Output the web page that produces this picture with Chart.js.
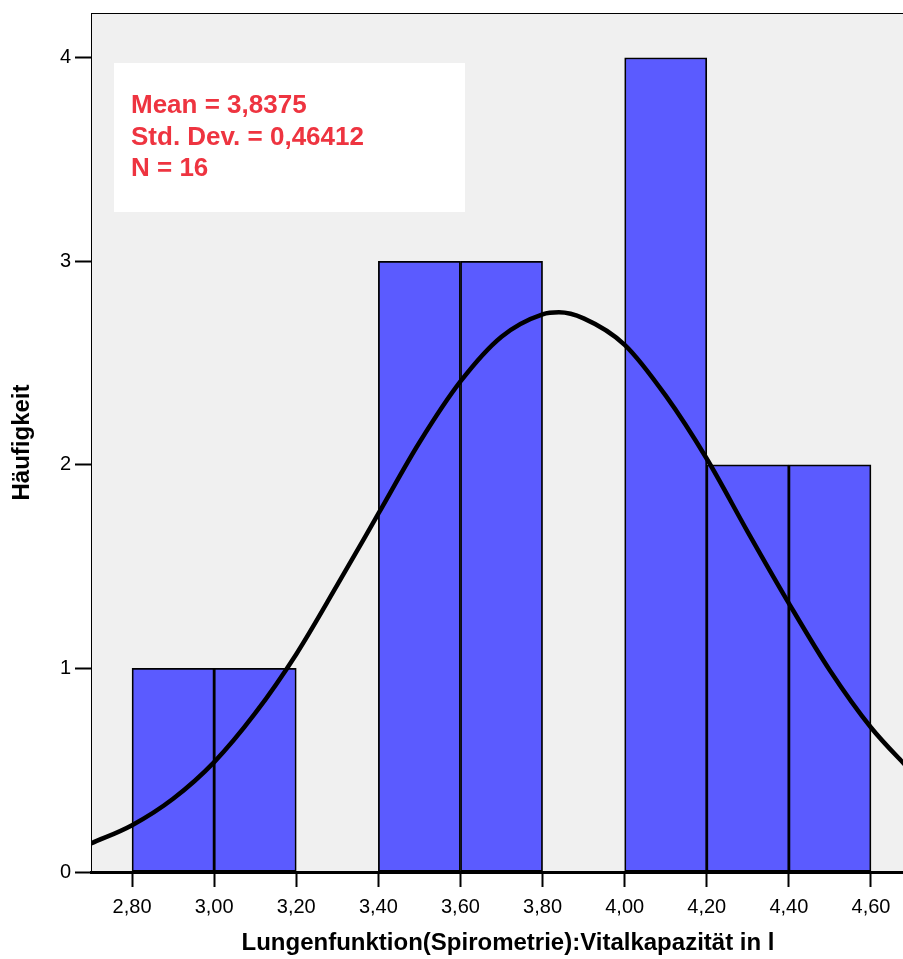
<!DOCTYPE html>
<html>
<head>
<meta charset="utf-8">
<script src="https://cdn.jsdelivr.net/npm/chart.js@4/dist/chart.umd.min.js"></script>
<style>
  html, body { margin: 0; padding: 0; background: #fff; }
  #wrap { width: 903px; height: 959px; }
</style>
</head>
<body>
<div id="wrap"><canvas id="hist"></canvas></div>
<script>
// Histogram - Vitalkapazität (SPSS style)

const binCenters = [2.9, 3.1, 3.3, 3.5, 3.7, 3.9, 4.1, 4.3, 4.5];
const binCounts = [1, 1, 0, 3, 3, 0, 4, 2, 2];

// normal curve (3.84 = top of the curve)
const curveX = [2.7, 2.8, 2.9, 3.0, 3.1, 3.2, 3.3, 3.4, 3.5, 3.6, 3.7, 3.8, 3.84, 3.9, 4.0, 4.1, 4.2, 4.3, 4.4, 4.5, 4.6, 4.7];
const curveY = [0.14, 0.23, 0.36, 0.54, 0.78, 1.07, 1.41, 1.76, 2.11, 2.41, 2.63, 2.74, 2.75, 2.72, 2.59, 2.34, 2.03, 1.67, 1.32, 0.99, 0.71, 0.49];

const xTickValues = [2.8, 3.0, 3.2, 3.4, 3.6, 3.8, 4.0, 4.2, 4.4, 4.6];
const xTickLabels = ['2,80', '3,00', '3,20', '3,40', '3,60', '3,80', '4,00', '4,20', '4,40', '4,60'];
const yTickValues = [0, 1, 2, 3, 4];
const yTickLabels = ['0', '1', '2', '3', '4'];

const statLines = ['Mean = 3,8375', 'Std. Dev. = 0,46412', 'N = 16'];
const xTitle = 'Lungenfunktion(Spirometrie):Vitalkapazität in l';

const FONT = "'Liberation Sans', Arial, sans-serif";

// Plot background, frame, statistics box and x title
const frame = {
    id: 'frame',
    beforeDraw(chart) {
        const { ctx, chartArea: a } = chart;
        ctx.save();
        ctx.fillStyle = '#f0f0f0';
        ctx.fillRect(a.left, a.top, a.right - a.left, a.bottom - a.top);
        ctx.strokeStyle = '#000';
        ctx.lineWidth = 1;
        ctx.beginPath();
        ctx.moveTo(a.left, a.top + 0.5);
        ctx.lineTo(a.right, a.top + 0.5);
        ctx.stroke();

        // stats box
        ctx.fillStyle = '#fff';
        ctx.fillRect(a.left + 23, a.top + 50, 351, 149);
        ctx.fillStyle = '#ee3440';
        ctx.font = 'bold 26px ' + FONT;
        ctx.textBaseline = 'middle';
        statLines.forEach((t, i) => {
            ctx.fillText(t, a.left + 40, a.top + 93 + i * 31.5);
        });

        // x axis title (sits a bit right of the plot centre)
        ctx.fillStyle = '#000';
        ctx.font = 'bold 24px ' + FONT;
        ctx.textAlign = 'center';
        ctx.fillText(xTitle, 508, 943);
        ctx.restore();
    }
};

new Chart(document.getElementById('hist'), {
    data: {
        datasets: [
            {
                type: 'line',
                data: curveX.map((x, i) => ({ x: x, y: curveY[i] })),
                borderColor: '#000',
                borderWidth: 4.5,
                pointRadius: 0,
                cubicInterpolationMode: 'monotone',
                fill: false,
                order: 0
            },
            {
                type: 'bar',
                data: binCenters.map((x, i) => ({ x: x, y: binCounts[i] })),
                backgroundColor: '#5b5bff',
                borderColor: '#000',
                borderWidth: 1.75,
                borderSkipped: false,
                barPercentage: 1.0,
                categoryPercentage: 1.0,
                order: 1
            }
        ]
    },
    options: {
        responsive: true,
        maintainAspectRatio: false,
        animation: false,
        layout: { padding: { top: 13, right: 0, left: 0, bottom: 0 } },
        plugins: {
            legend: { display: false },
            tooltip: { enabled: false }
        },
        scales: {
            x: {
                type: 'linear',
                offset: false,
                min: 2.7,
                max: 4.678,
                afterFit(scale) {
                    scale.height = 87;
                    scale.paddingLeft = 0;
                    scale.paddingRight = 0;
                },
                afterBuildTicks(scale) { scale.ticks = xTickValues.map(v => ({ value: v })); },
                ticks: {
                    autoSkip: false,
                    maxRotation: 0,
                    color: '#000',
                    padding: 8,
                    font: { family: FONT, size: 20 },
                    callback: (v, i) => xTickLabels[i]
                },
                grid: {
                    offset: false,
                    drawOnChartArea: false,
                    drawTicks: true,
                    tickLength: 15,
                    tickWidth: 2,
                    tickColor: '#000'
                },
                border: { display: true, color: '#000', width: 3 }
            },
            y: {
                min: 0,
                max: 4.22,
                afterFit(scale) {
                    scale.width = 91;
                    scale.paddingTop = 0;
                    scale.paddingBottom = 0;
                },
                afterBuildTicks(scale) { scale.ticks = yTickValues.map(v => ({ value: v })); },
                ticks: {
                    color: '#000',
                    padding: 4,
                    font: { family: FONT, size: 20 },
                    callback: (v, i) => yTickLabels[i]
                },
                grid: {
                    drawOnChartArea: false,
                    drawTicks: true,
                    tickLength: 16,
                    tickWidth: 2,
                    tickColor: '#000'
                },
                border: { display: true, color: '#000', width: 1 },
                title: {
                    display: true,
                    text: 'Häufigkeit',
                    color: '#000',
                    font: { family: FONT, size: 24, weight: 'bold' },
                    padding: { top: 8, bottom: 0 }
                }
            }
        }
    },
    plugins: [frame]
});
</script>
</body>
</html>
